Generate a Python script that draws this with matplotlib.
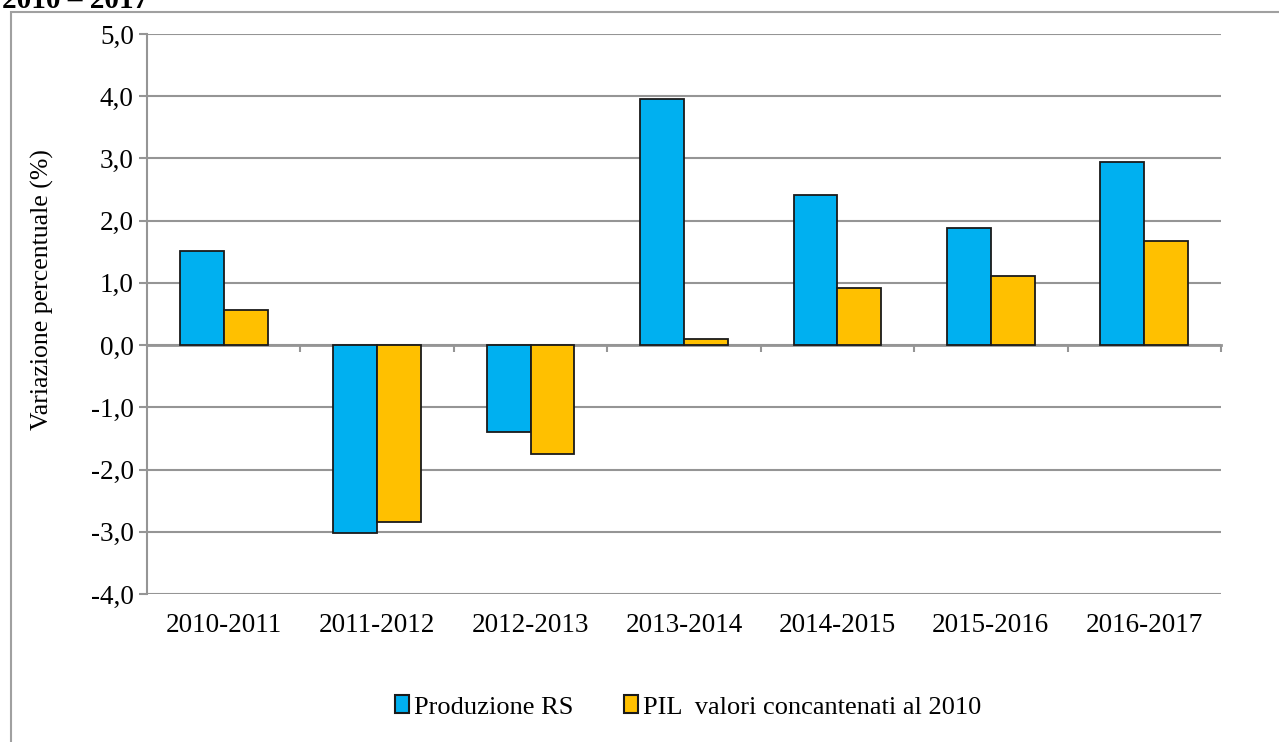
import numpy as np
import matplotlib
matplotlib.use('Agg')

import matplotlib.pyplot as plt
from matplotlib.patches import Rectangle
from matplotlib.ticker import FuncFormatter

periodi = ['2010-2011', '2011-2012', '2012-2013', '2013-2014',
           '2014-2015', '2015-2016', '2016-2017']
produzione_rs = [1.52, -3.02, -1.40, 3.96, 2.41, 1.88, 2.94]
pil_2010 = [0.56, -2.84, -1.75, 0.10, 0.92, 1.11, 1.68]
nomi = ['Produzione RS', 'PIL  valori concantenati al 2010']
colori = ['#00B0F0', '#FFC000']

plt.rcParams['font.family'] = ['Liberation Serif', 'DejaVu Serif']

fig = plt.figure(figsize=(12.79, 7.42), dpi=100)
ax = fig.add_axes([147 / 1279, 1 - 594 / 742, 1074 / 1279, 560 / 742])

grigio = '#959595'
x = np.arange(len(periodi))
w = 0.286
for i, (serie, nome, col) in enumerate(zip([produzione_rs, pil_2010], nomi, colori)):
    ax.bar(x + (i - 0.5) * w, serie, width=w, color=col, edgecolor='#1a1a1a',
           linewidth=1.3, label=nome, zorder=3)

ax.set_xlim(-0.5, len(periodi) - 0.5)
ax.set_ylim(-4, 5)
ax.set_yticks(np.arange(-4, 6, 1))
ax.yaxis.set_major_formatter(FuncFormatter(lambda v, p: ('%.1f' % (round(v, 1) + 0.0)).replace('.', ',')))
ax.grid(axis='y', color=grigio, linewidth=1.5, zorder=0)

for s in ['top', 'right']:
    ax.spines[s].set_visible(False)
ax.spines['left'].set_color(grigio)
ax.spines['left'].set_linewidth(1.5)
ax.spines['bottom'].set_visible(False)

ax.tick_params(axis='y', direction='out', length=6, width=1.5, color=grigio,
               labelsize=19.5, pad=3.5)
ax.set_xticks(x)
ax.set_xticklabels(periodi)
ax.tick_params(axis='x', length=0, labelsize=19.5, pad=14)

# asse delle categorie che incrocia lo zero
sec = ax.secondary_xaxis(4 / 9)
sec.set_xticks(np.arange(len(periodi)) + 0.5)
sec.tick_params(direction='out', length=5, width=1.5, color=grigio, labelbottom=False)
sec.spines['bottom'].set_color(grigio)
sec.spines['bottom'].set_linewidth(2)

ax.set_ylabel('Variazione percentuale (%)', fontsize=18.5)
ax.yaxis.set_label_coords(-0.097, 0.543)
ax.yaxis.label.set_verticalalignment('center')

leg = ax.legend(loc='center', bbox_to_anchor=(688 / 1279, 1 - 707 / 742),
                bbox_transform=fig.transFigure, ncol=2, frameon=False, fontsize=19,
                handlelength=0.55, handleheight=0.65, handletextpad=0.18,
                columnspacing=1.9)
for h in leg.legend_handles:
    h.set_linewidth(1.5)

fig.text(2 / 1279, 1 - 8 / 742, '2010 \u2013 2017', fontsize=21, fontweight='bold',
         va='baseline', ha='left')

fig.patches.append(Rectangle((11 / 1279, -0.1), 1.2, 1 - 12 / 742 + 0.1,
                             transform=fig.transFigure, fill=False,
                             edgecolor='#a0a0a0', linewidth=1.5))

plt.savefig('out.png', dpi=100)
